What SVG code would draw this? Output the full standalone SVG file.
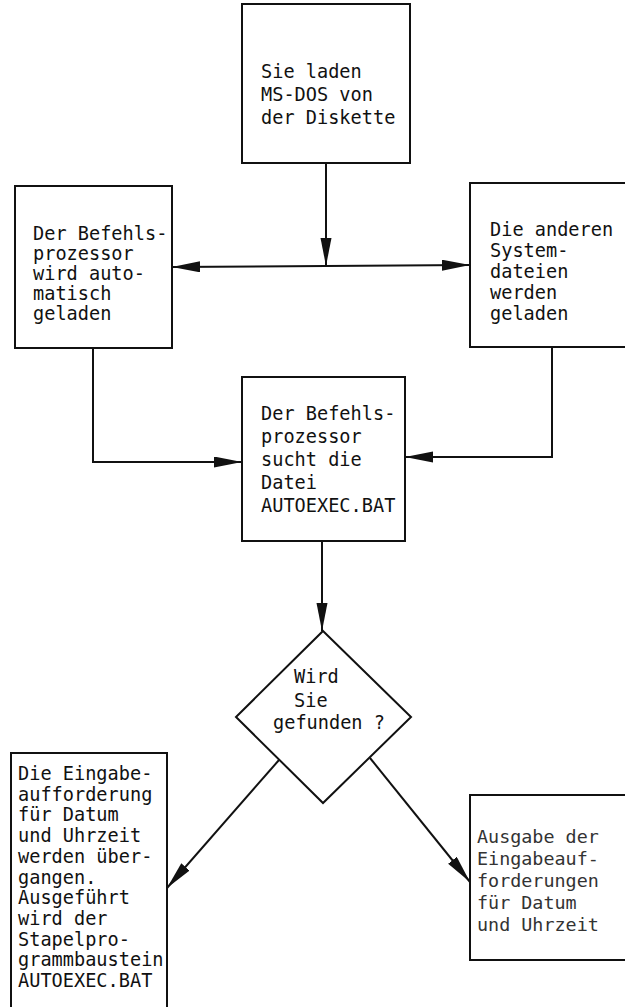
<svg xmlns="http://www.w3.org/2000/svg" width="625" height="1007" viewBox="0 0 625 1007">
<style>
.box{fill:#fff;stroke:#111;stroke-width:2}
.ln{fill:none;stroke:#111;stroke-width:2;marker-end:url(#ah)}
.pl{fill:none;stroke:#111;stroke-width:2}
text{font-family:"DejaVu Sans Mono","Liberation Mono",monospace;font-size:18.6px;fill:#111}
.lt{fill:#333;font-size:18.4px}
</style>
<defs>
<marker id="ah" markerUnits="userSpaceOnUse" markerWidth="28" markerHeight="12" refX="28" refY="5.5" orient="auto">
<path d="M0,0 L28,5.5 L0,11 z" fill="#111"/>
</marker>
</defs>
<rect width="625" height="1007" fill="#fff"/>
<g id="connectors">
<line class="ln" x1="326" y1="163" x2="326" y2="266"/>
<line class="ln" x1="326" y1="266" x2="172" y2="267"/>
<line class="ln" x1="326" y1="266" x2="470" y2="265"/>
<polyline class="ln" points="93,348 93,462 242,462"/>
<polyline class="ln" points="552,347 552,457 405,457"/>
<line class="ln" x1="322" y1="541" x2="322" y2="631"/>
<line class="ln" x1="279" y1="760" x2="167" y2="888"/>
<line class="ln" x1="370" y1="758" x2="470" y2="882"/>
</g>
<g id="n1">
<rect class="box" x="242" y="4" width="168" height="159"/>
<text x="261" y="78">Sie laden</text>
<text x="261" y="101">MS-DOS von</text>
<text x="261" y="124">der Diskette</text>
</g>
<g id="n2">
<rect class="box" x="15" y="186" width="157" height="162"/>
<text x="33" y="240">Der Befehls-</text>
<text x="33" y="260">prozessor</text>
<text x="33" y="280">wird auto-</text>
<text x="33" y="300">matisch</text>
<text x="33" y="320">geladen</text>
</g>
<g id="n3">
<rect class="box" x="470" y="183" width="170" height="164"/>
<text x="490" y="236">Die anderen</text>
<text x="490" y="257">System-</text>
<text x="490" y="278">dateien</text>
<text x="490" y="299">werden</text>
<text x="490" y="320">geladen</text>
</g>
<g id="n4">
<rect class="box" x="242" y="377" width="163" height="164"/>
<text x="261" y="420">Der Befehls-</text>
<text x="261" y="443">prozessor</text>
<text x="261" y="466">sucht die</text>
<text x="261" y="489">Datei</text>
<text x="261" y="512">AUTOEXEC.BAT</text>
</g>
<g id="n5">
<polygon class="box" points="323,631 411,717 323,803 236,717"/>
<text x="294" y="683">Wird</text>
<text x="294" y="707">Sie</text>
<text x="273" y="729">gefunden ?</text>
</g>
<g id="n6">
<rect class="box" x="11" y="753" width="156" height="270"/>
<text x="18" y="780">Die Eingabe-</text>
<text x="18" y="800.7">aufforderung</text>
<text x="18" y="821.4">für Datum</text>
<text x="18" y="842.1">und Uhrzeit</text>
<text x="18" y="862.8">werden über-</text>
<text x="18" y="883.5">gangen.</text>
<text x="18" y="904.2">Ausgeführt</text>
<text x="18" y="924.9">wird der</text>
<text x="18" y="945.6">Stapelpro-</text>
<text x="18" y="966.3">grammbaustein</text>
<text x="18" y="987">AUTOEXEC.BAT</text>
</g>
<g id="n7">
<rect class="box" x="470" y="795" width="170" height="165"/>
<text class="lt" x="477" y="843">Ausgabe der</text>
<text class="lt" x="477" y="865">Eingabeauf-</text>
<text class="lt" x="477" y="887">forderungen</text>
<text class="lt" x="477" y="909">für Datum</text>
<text class="lt" x="477" y="931">und Uhrzeit</text>
</g>
</svg>
